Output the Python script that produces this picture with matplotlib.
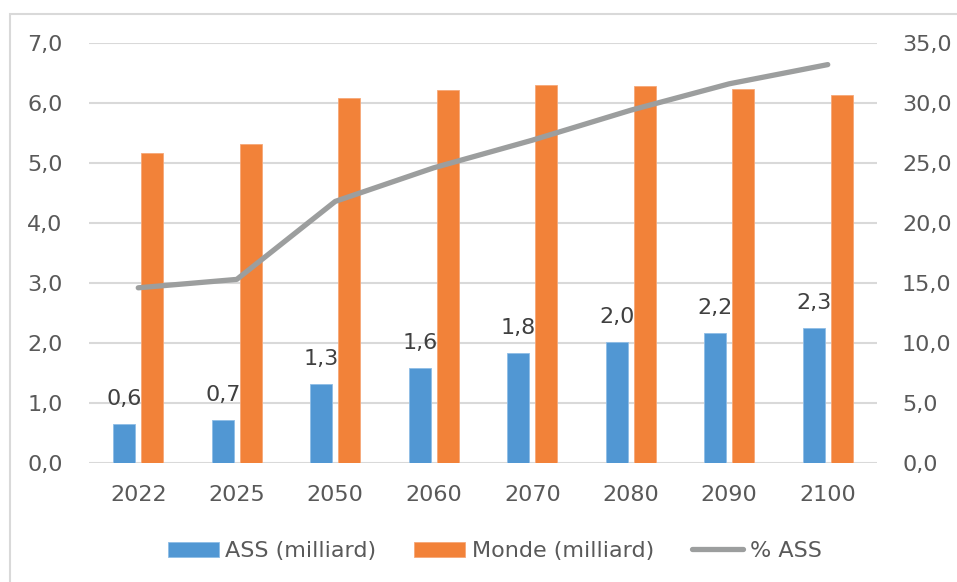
import matplotlib
matplotlib.use("Agg")
import matplotlib.pyplot as plt
import numpy as np
from matplotlib.patches import Rectangle
from matplotlib.ticker import FuncFormatter, MultipleLocator

years = ["2022", "2025", "2050", "2060", "2070", "2080", "2090", "2100"]
ass = [0.65, 0.72, 1.31, 1.58, 1.83, 2.01, 2.16, 2.25]
ass_labels = ["0,6", "0,7", "1,3", "1,6", "1,8", "2,0", "2,2", "2,3"]
monde = [5.17, 5.32, 6.08, 6.22, 6.30, 6.28, 6.23, 6.13]
pct_ass = [14.6, 15.3, 21.8, 24.6, 26.9, 29.4, 31.6, 33.2]

series_names = ["ASS (milliard)", "Monde (milliard)", "% ASS"]

plt.rcParams['font.family'] = ['DejaVu Sans']

blue = '#5197d3'
orange = '#f28239'
gray = '#9c9e9e'
txt = '#595959'
grid = '#d9d9d9'
FS = 16

fig = plt.figure(figsize=(9.57, 5.82), dpi=100)
ax = fig.add_axes([89/957, 1-463/582, (877-89)/957, (463-43)/582])
ax2 = ax.twinx()

# border frame
fig.patches.append(Rectangle((10/957, -0.02), 1.0, 1 - 14/582 + 0.02, transform=fig.transFigure,
                             fill=False, edgecolor=grid, linewidth=1.5))

x = np.arange(len(years))
w = 0.22
off = 0.142
b1 = ax.bar(x - off, ass, width=w, color=blue, edgecolor='#8fbde6', linewidth=0.6, label=series_names[0], zorder=3)
b2 = ax.bar(x + off, monde, width=w, color=orange, edgecolor='#f6a878', linewidth=0.6, label=series_names[1], zorder=3)
for xi, v, lab in zip(x, ass, ass_labels):
    ax.annotate(lab, (xi - off, v), xytext=(0, 11), textcoords='offset points',
                ha='center', va='bottom', fontsize=FS, color='#404040', zorder=5)

ax2.plot(x, pct_ass, color=gray, linewidth=3.8, solid_capstyle='round', solid_joinstyle='round',
         label=series_names[2], zorder=4)

ax.set_xlim(-0.5, len(years) - 0.5)
ax.set_ylim(0, 7)
ax2.set_ylim(0, 35)
ax.yaxis.set_major_locator(MultipleLocator(1))
ax2.yaxis.set_major_locator(MultipleLocator(5))
fmt = FuncFormatter(lambda v, p: f"{v:.1f}".replace('.', ','))
ax.yaxis.set_major_formatter(fmt)
ax2.yaxis.set_major_formatter(fmt)
ax.set_xticks(x)
ax.set_xticklabels(years)

ax.grid(axis='y', color=grid, linewidth=1.5, zorder=0)
ax.set_axisbelow(True)
for a in (ax, ax2):
    for s in a.spines.values():
        s.set_visible(False)
ax.tick_params(axis='y', length=0, pad=19, labelsize=FS, labelcolor=txt)
ax2.tick_params(axis='y', length=0, pad=18, labelsize=FS, labelcolor=txt)
ax.tick_params(axis='x', length=0, pad=16, labelsize=FS, labelcolor=txt)

handles = [b1, b2, ax2.get_lines()[0]]
leg = fig.legend(handles, series_names, loc='center', bbox_to_anchor=(0.517, 1 - 551/582),
                 ncol=3, frameon=False, fontsize=FS, handlelength=2.3, handleheight=0.65,
                 handletextpad=0.3, columnspacing=1.7, labelcolor=txt)

fig.savefig('out.png', dpi=100)
